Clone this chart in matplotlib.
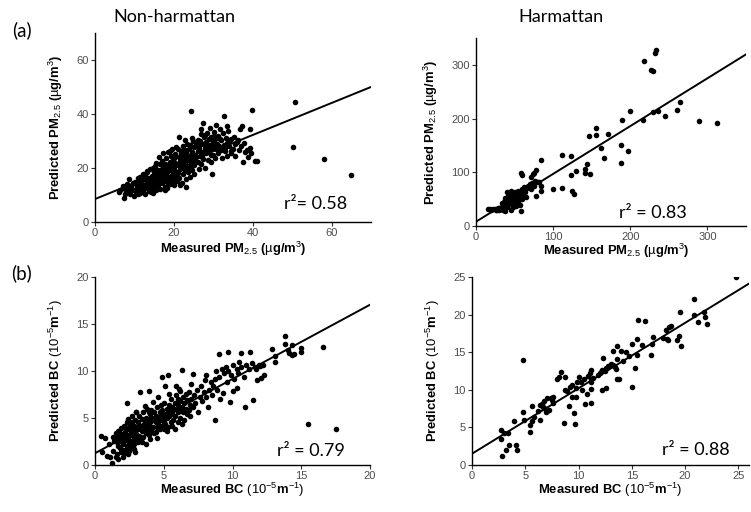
import matplotlib
matplotlib.use('Agg')
import matplotlib.pyplot as plt

plt.rcParams['font.family'] = ['Liberation Sans', 'DejaVu Sans']
plt.rcParams['mathtext.fontset'] = 'custom'
plt.rcParams['mathtext.rm'] = 'Liberation Sans'
plt.rcParams['mathtext.bf'] = 'Liberation Sans:bold'
plt.rcParams['mathtext.it'] = 'Liberation Sans:italic'

# 非哈麦丹季 PM2.5（测量值，预测值）
pm_nh = [
    (6.0, 11.2), (6.4, 12.0), (7.0, 13.5), (7.3, 8.8), (7.5, 10.2), (7.6, 12.4), (8.0, 11.0), (8.2, 14.0),
    (8.5, 15.8), (8.7, 12.6), (9.0, 10.3), (9.1, 13.2), (9.4, 11.8), (9.7, 14.4), (9.9, 9.8), (10.0, 12.0),
    (10.2, 15.0), (10.4, 11.0), (10.6, 13.4), (10.9, 10.2),
    (11.0, 12.2), (11.2, 14.6), (11.4, 16.8), (11.5, 10.8), (11.7, 13.2), (11.9, 15.4), (12.0, 11.6), (12.1, 17.8),
    (12.3, 13.8), (12.5, 12.4), (12.6, 15.9), (12.8, 10.4), (12.9, 14.2), (13.0, 16.6), (13.2, 12.8), (13.3, 18.4),
    (13.5, 14.8), (13.6, 11.4), (13.8, 16.0), (13.9, 13.4), (14.0, 19.6), (14.1, 15.2), (14.3, 12.2), (14.4, 17.2),
    (14.6, 14.0), (14.7, 10.6), (14.9, 16.4), (15.0, 13.0), (15.0, 18.6), (15.2, 15.6), (15.3, 20.6), (15.5, 12.0),
    (15.6, 17.4), (15.8, 14.6), (15.9, 16.2), (12.2, 16.4), (13.1, 19.0), (14.2, 11.0), (11.8, 13.8), (10.8, 16.2),
    (16.0, 19.2), (16.1, 13.6), (16.2, 15.8), (16.4, 21.4), (16.5, 17.6), (16.6, 12.4), (16.8, 16.4), (16.9, 19.8),
    (17.0, 14.6), (17.1, 22.6), (17.3, 18.2), (17.4, 15.2), (17.5, 20.4), (17.6, 16.8), (17.8, 13.0), (17.9, 19.0),
    (18.0, 23.6), (18.1, 17.6), (18.2, 21.0), (18.4, 15.6), (18.5, 18.8), (18.6, 25.8), (18.7, 20.0), (18.8, 16.6),
    (19.0, 22.2), (19.1, 14.2), (19.2, 19.4), (19.3, 24.4), (19.4, 17.2), (19.5, 21.4), (19.6, 27.0), (19.7, 18.6),
    (19.8, 15.6), (19.9, 23.0), (20.0, 20.2), (20.1, 13.6), (20.2, 25.2), (20.3, 19.0), (20.4, 22.0), (20.5, 17.0),
    (16.3, 24.0), (17.2, 25.4), (17.7, 11.8), (18.3, 12.6), (18.9, 26.4), (19.5, 16.0), (20.6, 27.6), (16.7, 18.0),
    (17.8, 21.6), (18.6, 14.2), (19.0, 20.6), (20.0, 23.8), (20.7, 15.2), (15.4, 22.0), (14.8, 20.0),
    (21.0, 21.2), (21.1, 18.2), (21.2, 24.2), (21.3, 31.6), (21.4, 16.4), (21.5, 22.6), (21.6, 19.8), (21.8, 26.2),
    (21.9, 23.4), (22.0, 14.6), (22.1, 20.6), (22.2, 28.0), (22.3, 17.8), (22.5, 24.8), (22.6, 22.0), (22.7, 19.2),
    (22.8, 26.8), (23.0, 23.0), (23.1, 15.8), (23.2, 21.0), (23.3, 29.0), (23.4, 25.0), (23.5, 18.4), (23.6, 22.8),
    (23.8, 27.0), (23.9, 20.0), (24.0, 24.4), (24.1, 16.6), (24.2, 28.6), (24.3, 41.2), (24.4, 22.0), (24.5, 26.0),
    (24.6, 19.4), (24.8, 30.0), (24.9, 23.8), (25.0, 21.0), (25.1, 27.6), (25.2, 17.6), (25.3, 25.0), (25.5, 29.0),
    (21.7, 25.4), (22.4, 21.6), (23.1, 26.4), (23.7, 24.0), (24.2, 20.6), (24.7, 25.6), (25.4, 22.6), (21.0, 27.2),
    (22.9, 30.4), (24.5, 31.2), (25.6, 24.0), (21.5, 13.8), (23.0, 12.8), (22.0, 23.6), (24.0, 22.8),
    (26.0, 26.4), (26.1, 22.2), (26.2, 30.4), (26.3, 19.6), (26.5, 28.2), (26.6, 24.6), (26.8, 32.6), (26.9, 21.4),
    (27.0, 34.4), (27.1, 26.0), (27.3, 36.7), (27.4, 29.0), (27.5, 23.4), (27.6, 31.4), (27.8, 27.4), (28.0, 20.0),
    (28.1, 29.8), (28.2, 25.4), (28.4, 33.0), (28.5, 27.8), (28.6, 23.0), (28.8, 30.8), (29.0, 26.0), (29.1, 35.0),
    (29.2, 28.6), (29.4, 22.4), (29.5, 31.6), (29.6, 27.0), (29.8, 17.9), (29.9, 29.6), (30.0, 25.0), (30.1, 33.4),
    (30.2, 28.0), (30.4, 30.6), (30.5, 23.6), (30.6, 36.0), (30.8, 27.2), (26.4, 27.0), (27.2, 24.4), (27.9, 32.2),
    (28.7, 26.4), (29.3, 24.8), (30.3, 31.8), (26.7, 30.0), (28.3, 28.6),
    (31.0, 29.0), (31.1, 25.6), (31.3, 31.8), (31.5, 28.0), (31.7, 34.4), (31.9, 26.6), (32.0, 30.2), (32.2, 23.8),
    (32.4, 32.8), (32.6, 28.4), (32.8, 39.1), (33.0, 26.2), (33.2, 31.0), (33.4, 29.2), (33.6, 24.6), (33.8, 33.6),
    (34.0, 28.0), (34.2, 30.4), (34.6, 30.9), (34.6, 25.6), (34.9, 27.0), (35.2, 31.6), (35.4, 28.9), (35.6, 24.4),
    (36.0, 29.6), (36.2, 30.5), (31.6, 30.6), (32.9, 27.4), (33.5, 35.4), (34.4, 26.4),
    (36.5, 26.8), (36.8, 34.4), (37.0, 28.2), (37.5, 22.2), (37.8, 29.4), (38.0, 25.8), (38.5, 26.6), (39.2, 34.3),
    (39.2, 27.4), (39.6, 25.6), (39.8, 41.3), (40.7, 22.5), (41.1, 22.7), (37.2, 35.6), (38.8, 24.2),
    (50.7, 44.4), (50.2, 27.7), (58.2, 23.5), (65.0, 17.5),
]

# 哈麦丹季 PM2.5
pm_h = [
    (233.8, 327), (232.5, 323), (217.7, 307), (227, 290), (229, 288), (265, 231), (261, 216), (244.6, 205.6),
    (236, 215), (229.4, 213), (216.5, 197.5), (200, 214), (189, 198), (288.7, 195), (313, 192.6), (155, 182.7),
    (155, 170), (147, 167), (171, 171.6), (162, 145.7), (187.4, 150), (197, 139), (165.8, 126.5), (187.4, 117),
    (111.7, 131.5), (123.4, 130), (84.4, 122), (78, 103.7), (75.8, 98.8), (58.4, 98.8), (59.7, 94.4), (71.4, 91.4),
    (74.5, 96), (81.4, 82), (84.4, 74), (78, 55.5), (99.6, 69), (111.7, 71.6), (123, 95.7), (129, 101.9),
    (140.7, 105.6), (140.7, 99.4), (148, 96.3), (144, 114.8), (124.7, 65.4), (126.4, 59.9), (84.4, 65.4),
    (15, 31), (18, 31), (20, 30), (22, 32), (25, 31), (27, 30), (28, 33), (30, 29), (32, 31), (33, 34),
    (35, 30), (35, 38), (36, 44), (37, 53), (38, 28), (38, 48), (40, 35), (40, 64), (42, 40), (42, 52),
    (44, 45), (45, 30), (45, 58), (46, 65), (47, 42), (48, 50), (49, 55), (50, 47), (50, 64), (52, 38),
    (53, 60), (54, 52), (55, 44), (55, 66), (56, 55), (57, 40), (58, 28), (58, 62), (60, 50), (60, 68),
    (61, 57), (62, 72), (63, 64), (65, 54), (66, 70), (68, 75), (70, 78), (71, 68), (73, 80), (75, 74),
    (77, 84), (80, 82), (45, 48), (43, 50), (41, 56), (39, 42), (37, 36), (34, 42), (30, 34), (26, 29),
    (48, 35), (51, 56), (56, 60),
]

# 非哈麦丹季 BC
bc_nh = [
    (0.43, 3.1), (0.72, 2.9), (0.53, 1.35), (0.85, 1.0), (1.2, 0.2), (1.0, 2.2), (1.3, 1.5), (1.4, 2.6),
    (1.1, 0.9), (1.5, 0.8), (1.5, 3.4), (1.3, 3.0),
    (1.6, 1.2), (1.6, 2.4), (1.7, 3.6), (1.7, 0.6), (1.8, 1.8), (1.8, 2.9), (1.9, 3.9), (1.9, 1.4),
    (2.0, 2.2), (2.0, 3.2), (2.0, 0.9), (2.1, 4.2), (2.1, 2.6), (2.2, 1.6), (2.2, 3.5), (2.3, 2.0),
    (2.3, 6.56), (2.3, 4.6), (2.4, 2.8), (2.4, 1.2), (2.4, 3.8), (2.5, 2.4), (2.5, 4.0), (2.5, 3.1),
    (2.6, 1.8), (2.6, 4.4), (2.6, 3.4), (2.7, 2.6), (2.7, 3.8), (2.7, 5.2), (2.8, 2.2), (2.8, 4.2),
    (2.8, 3.0), (2.9, 1.4), (2.9, 3.6), (2.9, 4.8), (3.0, 2.8), (3.0, 4.0), (3.0, 5.6), (3.0, 3.3),
    (1.7, 2.0), (1.9, 2.6), (2.1, 1.3), (2.2, 2.8), (2.4, 4.9), (2.6, 2.1), (2.8, 1.7), (1.8, 3.4),
    (2.3, 3.2), (2.7, 4.6), (2.0, 1.6), (2.5, 1.5), (2.9, 2.4), (2.2, 4.0), (1.6, 3.0),
    (3.1, 2.4), (3.1, 3.8), (3.1, 4.6), (3.2, 3.1), (3.2, 5.2), (3.3, 7.8), (3.3, 4.1), (3.3, 2.8),
    (3.4, 3.6), (3.4, 4.9), (3.5, 4.3), (3.5, 3.0), (3.5, 5.6), (3.6, 3.9), (3.6, 4.7), (3.7, 2.2),
    (3.7, 5.0), (3.7, 3.4), (3.8, 4.4), (3.8, 6.0), (3.8, 3.7), (3.9, 4.9), (3.9, 7.9), (3.9, 3.2),
    (4.0, 4.2), (4.0, 5.4), (4.0, 2.8), (4.1, 4.7), (4.1, 3.6), (4.2, 6.7), (4.2, 5.0), (4.2, 4.0),
    (4.3, 5.6), (4.3, 3.4), (4.4, 4.6), (4.4, 5.2), (4.5, 4.0), (4.5, 6.2), (4.5, 2.9), (4.6, 5.0),
    (4.6, 4.4), (4.7, 5.6), (4.7, 3.8), (4.8, 4.8), (4.8, 6.4), (4.8, 5.3), (4.9, 9.4), (4.9, 4.2),
    (4.9, 5.8), (5.0, 5.0), (5.0, 4.6), (5.0, 6.6), (3.0, 5.6), (3.6, 6.3), (4.1, 5.8), (4.4, 3.5),
    (4.6, 7.2), (3.4, 2.5), (3.9, 5.6), (4.3, 4.9),
    (5.1, 8.4), (5.1, 5.4), (5.1, 4.4), (5.2, 6.0), (5.2, 5.0), (5.3, 9.6), (5.3, 5.6), (5.3, 4.0),
    (5.4, 6.4), (5.4, 5.2), (5.5, 4.6), (5.5, 5.8), (5.5, 7.0), (5.6, 5.4), (5.6, 6.2), (5.7, 4.8),
    (5.7, 5.9), (5.8, 6.6), (5.8, 5.2), (5.8, 3.8), (5.9, 6.0), (5.9, 7.4), (6.0, 5.6), (6.0, 4.6),
    (6.0, 6.4), (6.1, 8.1), (6.1, 5.9), (6.2, 6.8), (6.2, 5.0), (6.3, 6.2), (6.35, 10.1), (6.4, 5.6),
    (6.4, 7.2), (6.5, 6.6), (6.5, 4.8), (6.6, 6.0), (6.6, 7.6), (6.7, 6.9), (6.8, 5.8), (6.8, 7.8),
    (6.9, 6.4), (6.9, 5.2), (7.0, 7.0), (7.0, 8.6), (7.1, 9.7), (7.1, 6.2), (5.2, 3.6), (5.6, 4.2),
    (6.3, 4.4), (6.7, 5.4), (5.4, 7.6), (5.9, 8.4), (6.2, 7.9), (5.0, 3.8), (6.0, 7.0),
    (7.2, 7.4), (7.3, 6.6), (7.4, 8.0), (7.5, 5.6), (7.6, 7.2), (7.7, 8.4), (7.8, 6.8), (7.9, 7.8),
    (8.0, 9.0), (8.1, 9.6), (8.1, 7.2), (8.2, 6.2), (8.3, 8.0), (8.4, 8.8), (8.5, 7.4), (8.6, 8.4),
    (8.7, 4.8), (8.7, 9.2), (8.8, 10.0), (8.9, 8.0), (9.0, 11.8), (9.0, 9.4), (9.1, 7.0), (9.2, 10.2),
    (9.3, 7.7), (9.4, 9.8), (9.5, 10.4), (9.6, 8.8), (9.7, 12.0), (9.7, 10.0), (9.8, 6.7), (9.9, 9.6),
    (10.0, 7.9), (10.0, 10.6), (10.1, 9.2), (10.3, 8.2), (10.3, 10.2), (10.4, 9.8), (10.5, 11.0), (10.6, 11.9),
    (10.6, 10.4), (10.8, 9.4), (10.9, 6.2), (11.0, 10.6), (11.2, 10.2), (11.3, 12.0), (11.4, 10.8), (11.5, 6.9),
    (11.6, 10.4), (11.7, 10.2), (11.9, 10.6), (12.0, 10.5), (12.2, 10.6), (12.3, 9.6), (12.1, 9.3), (11.8, 9.0),
    (12.9, 12.3), (13.1, 11.6), (13.1, 11.0), (13.8, 13.7), (13.8, 12.9), (14.3, 12.8), (14.1, 11.9), (14.3, 11.7),
    (15.0, 12.4), (15.0, 12.0), (16.6, 12.6), (15.5, 4.4), (17.5, 3.8), (14.0, 12.2), (14.5, 11.8),
]

# 哈麦丹季 BC
bc_h = [
    (24.8, 25.0), (20.8, 22.1), (19.5, 20.3), (20.8, 19.9), (21.8, 20.4), (21.9, 19.7), (22.1, 18.8), (21.2, 19.0),
    (15.6, 19.3), (16.2, 19.1), (18.2, 18.0), (18.5, 18.4), (18.7, 18.5), (18.3, 16.7), (18.4, 16.6), (19.2, 16.6),
    (19.4, 17.2), (19.6, 15.8), (17.9, 16.9), (17.0, 17.0), (16.9, 16.1), (16.8, 14.6), (15.5, 16.8), (15.0, 16.1),
    (15.3, 12.9), (15.0, 10.4), (15.5, 14.6), (13.6, 15.8), (14.0, 15.1), (13.2, 15.1), (13.6, 14.1), (14.7, 14.5),
    (12.3, 14.2), (12.8, 13.2), (13.0, 13.4), (12.6, 12.9), (12.5, 12.5), (12.2, 12.6), (12.1, 12.4), (12.0, 12.3),
    (13.4, 13.0), (13.2, 13.3), (13.5, 12.8), (13.6, 11.5), (13.8, 11.4), (12.6, 10.2), (12.2, 10.0), (11.2, 12.6),
    (11.1, 12.3), (10.9, 11.8), (11.4, 11.6), (11.2, 11.4), (11.2, 11.1), (11.2, 10.1), (10.8, 9.4), (11.2, 8.3),
    (10.6, 8.1), (10.0, 11.7), (9.9, 11.1), (9.8, 10.2), (9.4, 10.6), (9.2, 10.4), (8.7, 10.0), (8.9, 9.8),
    (8.4, 12.4), (8.7, 11.7), (8.2, 11.7), (9.8, 9.1), (9.4, 9.1), (9.1, 7.8), (9.6, 6.9), (9.7, 5.5),
    (8.6, 5.6), (7.6, 9.1), (7.4, 8.9), (7.5, 8.7), (7.0, 8.9), (6.8, 8.5), (6.6, 8.1), (6.4, 8.0),
    (6.7, 7.7), (7.0, 7.2), (6.9, 7.0), (7.2, 7.3), (6.8, 7.6), (7.6, 8.2), (6.4, 6.0), (5.6, 7.8),
    (5.4, 5.3), (5.4, 4.4), (5.6, 5.9), (4.8, 13.9), (4.8, 7.0), (4.9, 6.0), (3.9, 5.8), (2.7, 4.7),
    (3.0, 4.3), (2.7, 3.5), (3.4, 4.3), (3.5, 2.7), (3.2, 2.0), (2.8, 1.2), (4.1, 2.7), (4.2, 2.0),
    (5.8, 6.4), (6.2, 7.2), (10.3, 10.0), (10.5, 11.5), (11.8, 12.0), (14.5, 15.0), (10.2, 11.0), (8.0, 11.5),
    (14.2, 13.8), (16.0, 16.0),
]

# 回归线：截距，斜率
fit_pm_nh = (8.5, 0.593)
fit_pm_h = (8.0, 0.89)
fit_bc_nh = (1.25, 0.79)
fit_bc_h = (1.5, 0.87)

r2_labels = ['r²= 0.58', 'r² = 0.83', 'r² = 0.79', 'r² = 0.88']

pm_xlabel = r'$\mathbf{Measured\ PM}_{2.5}$ $\mathbf{(}$µ$\mathbf{g/m}^{3}\mathbf{)}$'
pm_ylabel = r'$\mathbf{Predicted\ PM}_{2.5}$ $\mathbf{(}$µ$\mathbf{g/m}^{3}\mathbf{)}$'
bc_xlabel = r'$\mathbf{Measured\ BC}$ (10$^{-5}$$\mathbf{m}^{-1}$)'
bc_ylabel = r'$\mathbf{Predicted\ BC}$ (10$^{-5}$$\mathbf{m}^{-1}$)'

W, H = 751, 512
fig = plt.figure(figsize=(W / 100, H / 100), dpi=100)


def px_rect(left, top, right, bottom):
    return [left / W, 1 - bottom / H, (right - left) / W, (bottom - top) / H]


def draw_panel(rect, pts, fit, xlim, ylim, ticks, xlabel, ylabel, r2, r2_pos, xlab_pos, ylab_pos):
    ax = fig.add_axes(rect)
    xs = [p[0] for p in pts]
    ys = [p[1] for p in pts]
    ax.scatter(xs, ys, s=16, c='black', linewidths=0, zorder=3)
    ax.axline((0, fit[0]), slope=fit[1], color='black', lw=1.4, zorder=4)
    ax.set_xlim(*xlim)
    ax.set_ylim(*ylim)
    ax.set_xticks(ticks)
    ax.set_yticks(ticks)
    for s in ['top', 'right']:
        ax.spines[s].set_visible(False)
    for s in ['left', 'bottom']:
        ax.spines[s].set_linewidth(1.0)
    ax.tick_params(length=3, width=0.8, color='#333333', labelcolor='#4d4d4d',
                   labelsize=8, pad=1.5)
    ax.set_xlabel(xlabel, fontsize=9.4)
    ax.set_ylabel(ylabel, fontsize=9.4)
    ax.xaxis.label.set_va('center')
    ax.yaxis.label.set_va('center')
    ax.xaxis.set_label_coords(*xlab_pos)
    ax.yaxis.set_label_coords(*ylab_pos)
    fig.text(r2_pos[0] / W, 1 - r2_pos[1] / H, r2, fontsize=13, family='Lato',
             ha='center', va='center')
    return ax


draw_panel(px_rect(95, 33, 371, 222), pm_nh, fit_pm_nh, (0, 70), (0, 70), [0, 20, 40, 60],
           pm_xlabel, pm_ylabel, r2_labels[0], (316, 204), (0.5, -0.143), (-0.141, 0.5))
draw_panel(px_rect(476, 38, 746, 226), pm_h, fit_pm_h, (0, 350), (0, 350), [0, 100, 200, 300],
           pm_xlabel, pm_ylabel, r2_labels[1], (653, 213), (0.52, -0.13), (-0.167, 0.5))
draw_panel(px_rect(95, 277, 370, 465), bc_nh, fit_bc_nh, (0, 20), (0, 20), [0, 5, 10, 15, 20],
           bc_xlabel, bc_ylabel, r2_labels[2], (311, 451), (0.5, -0.133), (-0.142, 0.5))
draw_panel(px_rect(472, 277, 749, 465), bc_h, fit_bc_h, (0, 26), (0, 25), [0, 5, 10, 15, 20, 25],
           bc_xlabel, bc_ylabel, r2_labels[3], (696, 450), (0.5, -0.133), (-0.141, 0.5))

fig.text(174 / W, 1 - 17 / H, 'Non-harmattan', fontsize=13, family='Lato', ha='center', va='center')
fig.text(561 / W, 1 - 17 / H, 'Harmattan', fontsize=13, family='Lato', ha='center', va='center')
fig.text(22 / W, 1 - 30 / H, '(a)', fontsize=13.5, family='Lato', ha='center', va='center')
fig.text(21 / W, 1 - 273 / H, '(b)', fontsize=13.5, family='Lato', ha='center', va='center')

fig.savefig('out.png', dpi=100)
